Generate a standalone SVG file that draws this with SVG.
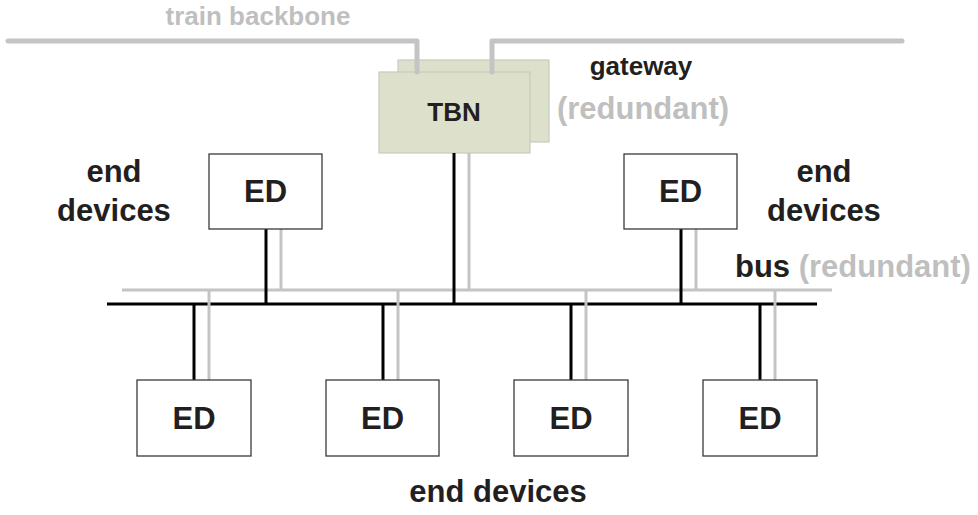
<svg xmlns="http://www.w3.org/2000/svg" width="978" height="515" viewBox="0 0 978 515">
  <style>
    text { font-family: "Liberation Sans", Arial, sans-serif; font-weight: bold; }
    .dark { fill: #231f20; }
    .light { fill: #bfbfbf; }
    .lbl { font-size: 31px; text-anchor: middle; }
    .ed { fill: #ffffff; stroke: #3a3a3a; stroke-width: 1.3; }
    .edtxt { font-size: 31px; text-anchor: middle; fill: #231f20; }
    .gw { fill: #dde0cb; stroke: #c8cabb; stroke-width: 1.2; }
    .blk { stroke: #000000; stroke-width: 3; fill: none; }
    .gry { stroke: #c4c4c4; stroke-width: 3; fill: none; }
    .bb { stroke: #c4c4c4; stroke-width: 5; fill: none; stroke-linecap: round; stroke-linejoin: round; }
  </style>

  <!-- labels -->
  <text class="light" x="258" y="25" font-size="26" text-anchor="middle">train backbone</text>
  <text class="dark" x="641" y="75" font-size="26" text-anchor="middle">gateway</text>
  <text class="light" x="643" y="119" font-size="31" text-anchor="middle">(redundant)</text>
  <text class="dark lbl" x="114" y="182">end</text>
  <text class="dark lbl" x="114" y="221">devices</text>
  <text class="dark lbl" x="824" y="182">end</text>
  <text class="dark lbl" x="824" y="221">devices</text>
  <text x="735" y="277" font-size="31"><tspan class="dark">bus </tspan><tspan class="light">(redundant)</tspan></text>
  <text class="dark lbl" x="498" y="502">end devices</text>

  <!-- gateway (redundant pair) -->
  <g id="gateway">
    <rect class="gw" x="398" y="60" width="151" height="82"/>
    <rect class="gw" x="379" y="72" width="151" height="81"/>
    <text class="dark" x="454" y="121" font-size="26" text-anchor="middle">TBN</text>
  </g>

  <!-- connectors -->
  <g id="connectors">
    <!-- train backbone -->
    <path class="bb" d="M8 41 H417 V72"/>
    <path class="bb" d="M492 72 V41 H902"/>
    <!-- redundant bus (grey) and main bus (black) -->
    <line class="gry" x1="122" y1="290" x2="832" y2="290"/>
    <line class="blk" x1="107" y1="304" x2="817" y2="304"/>
    <!-- gateway drops -->
    <line class="blk" x1="454" y1="153" x2="454" y2="304"/>
    <line class="gry" x1="469" y1="153" x2="469" y2="290"/>
    <!-- upper device drops -->
    <line class="blk" x1="266" y1="229" x2="266" y2="304"/>
    <line class="gry" x1="281" y1="229" x2="281" y2="290"/>
    <line class="blk" x1="681" y1="229" x2="681" y2="304"/>
    <line class="gry" x1="696" y1="229" x2="696" y2="290"/>
    <!-- lower device drops -->
    <line class="blk" x1="194" y1="304" x2="194" y2="380"/>
    <line class="gry" x1="209" y1="290" x2="209" y2="380"/>
    <line class="blk" x1="383" y1="304" x2="383" y2="380"/>
    <line class="gry" x1="398" y1="290" x2="398" y2="380"/>
    <line class="blk" x1="571" y1="304" x2="571" y2="380"/>
    <line class="gry" x1="586" y1="290" x2="586" y2="380"/>
    <line class="blk" x1="760" y1="304" x2="760" y2="380"/>
    <line class="gry" x1="775" y1="290" x2="775" y2="380"/>
  </g>

  <!-- end devices -->
  <g id="ed-top-left">
    <rect class="ed" x="209" y="154" width="113" height="75"/>
    <text class="edtxt" x="265.5" y="202">ED</text>
  </g>
  <g id="ed-top-right">
    <rect class="ed" x="624" y="154" width="113" height="75"/>
    <text class="edtxt" x="680.5" y="202">ED</text>
  </g>
  <g id="ed-bottom-1">
    <rect class="ed" x="137" y="380" width="114" height="76"/>
    <text class="edtxt" x="194" y="429">ED</text>
  </g>
  <g id="ed-bottom-2">
    <rect class="ed" x="326" y="380" width="113" height="76"/>
    <text class="edtxt" x="382.5" y="429">ED</text>
  </g>
  <g id="ed-bottom-3">
    <rect class="ed" x="514" y="380" width="114" height="76"/>
    <text class="edtxt" x="571" y="429">ED</text>
  </g>
  <g id="ed-bottom-4">
    <rect class="ed" x="703" y="380" width="114" height="76"/>
    <text class="edtxt" x="760" y="429">ED</text>
  </g>
</svg>
